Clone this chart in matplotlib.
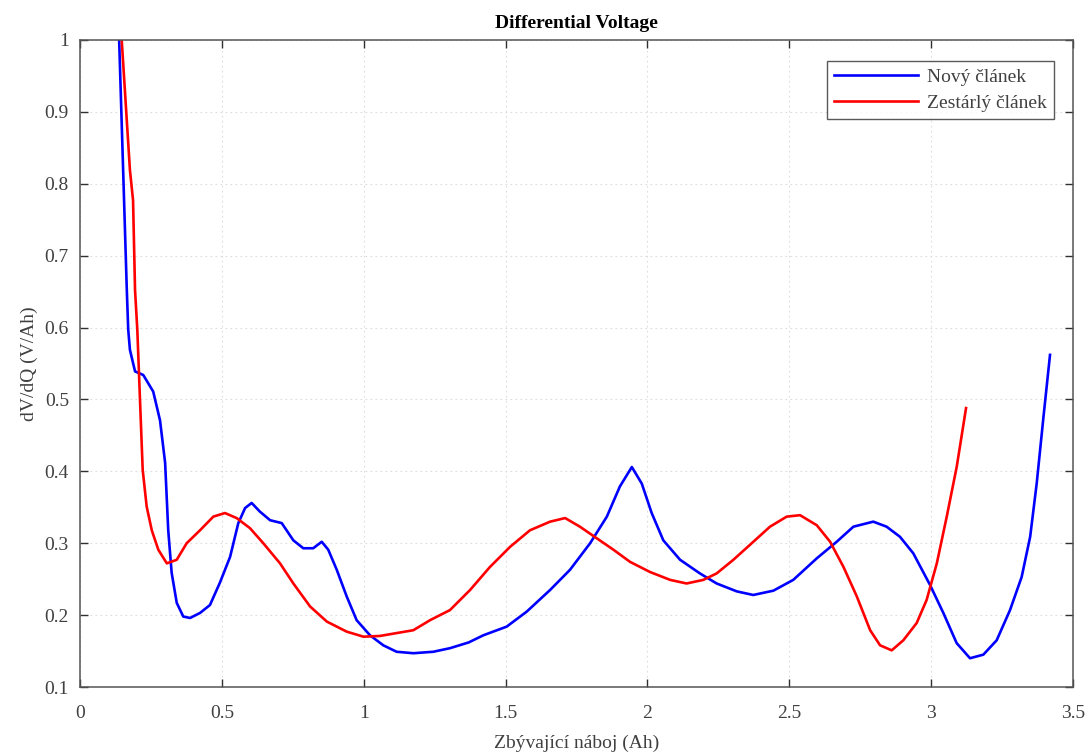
import matplotlib
matplotlib.use("Agg")
import matplotlib.pyplot as plt

# Nový článek (blue)
new_x = [0.138, 0.165, 0.170, 0.176, 0.194, 0.223, 0.258, 0.282, 0.300, 0.311, 0.323, 0.341,
         0.364, 0.388, 0.423, 0.458, 0.493, 0.529, 0.558, 0.582, 0.605, 0.634, 0.670, 0.711,
         0.752, 0.787, 0.822, 0.852, 0.875, 0.905, 0.940, 0.975, 1.022, 1.069, 1.116, 1.175,
         1.245, 1.304, 1.370, 1.422, 1.504, 1.575, 1.657, 1.727, 1.798, 1.857, 1.903, 1.945,
         1.980, 2.015, 2.056, 2.115, 2.185, 2.244, 2.315, 2.373, 2.444, 2.514, 2.597, 2.667,
         2.726, 2.796, 2.843, 2.890, 2.937, 2.996, 3.043, 3.090, 3.137, 3.184, 3.231, 3.278,
         3.319, 3.349, 3.372, 3.396, 3.419]
new_y = [1.000, 0.652, 0.597, 0.569, 0.539, 0.534, 0.511, 0.471, 0.412, 0.318, 0.259, 0.217,
         0.198, 0.196, 0.203, 0.214, 0.245, 0.281, 0.328, 0.349, 0.356, 0.344, 0.332, 0.328,
         0.304, 0.293, 0.293, 0.302, 0.291, 0.263, 0.226, 0.193, 0.172, 0.158, 0.149, 0.147,
         0.149, 0.154, 0.162, 0.172, 0.184, 0.205, 0.235, 0.263, 0.300, 0.337, 0.379, 0.406,
         0.383, 0.342, 0.304, 0.277, 0.258, 0.244, 0.233, 0.228, 0.234, 0.249, 0.279, 0.302,
         0.323, 0.330, 0.323, 0.309, 0.286, 0.242, 0.203, 0.161, 0.140, 0.145, 0.165, 0.207,
         0.253, 0.309, 0.383, 0.476, 0.562]

# Zestárlý článek (red)
old_x = [0.147, 0.176, 0.187, 0.194, 0.202, 0.211, 0.221, 0.235, 0.253, 0.276, 0.306, 0.341,
         0.376, 0.423, 0.470, 0.511, 0.552, 0.599, 0.646, 0.705, 0.752, 0.811, 0.870, 0.940,
         0.999, 1.057, 1.116, 1.175, 1.234, 1.304, 1.375, 1.445, 1.516, 1.586, 1.657, 1.710,
         1.762, 1.821, 1.880, 1.939, 2.009, 2.080, 2.138, 2.197, 2.244, 2.303, 2.362, 2.432,
         2.491, 2.538, 2.597, 2.644, 2.691, 2.738, 2.785, 2.820, 2.861, 2.902, 2.949, 2.984,
         3.020, 3.055, 3.090, 3.123]
old_y = [1.000, 0.819, 0.777, 0.652, 0.597, 0.504, 0.402, 0.351, 0.318, 0.291, 0.272, 0.277,
         0.300, 0.318, 0.337, 0.342, 0.335, 0.321, 0.300, 0.272, 0.244, 0.212, 0.191, 0.177,
         0.170, 0.171, 0.175, 0.179, 0.193, 0.207, 0.235, 0.267, 0.295, 0.318, 0.330, 0.335,
         0.323, 0.307, 0.291, 0.274, 0.260, 0.249, 0.244, 0.249, 0.258, 0.277, 0.298, 0.323,
         0.337, 0.339, 0.325, 0.302, 0.267, 0.226, 0.179, 0.158, 0.151, 0.165, 0.189, 0.221,
         0.272, 0.337, 0.406, 0.488]

series_labels = ["Nový článek", "Zestárlý článek"]
x_ticks = [0, 0.5, 1, 1.5, 2, 2.5, 3, 3.5]
y_ticks = [0.1, 0.2, 0.3, 0.4, 0.5, 0.6, 0.7, 0.8, 0.9, 1.0]
x_tick_labels = ["0", "0.5", "1", "1.5", "2", "2.5", "3", "3.5"]
y_tick_labels = ["0.1", "0.2", "0.3", "0.4", "0.5", "0.6", "0.7", "0.8", "0.9", "1"]

plt.rcParams['font.family'] = ['Liberation Serif', 'DejaVu Serif']
TXT = '#404040'

fig = plt.figure(figsize=(10.88, 7.54), dpi=100)
ax = fig.add_axes([80/1088, 1 - 687/754, (1073-80)/1088, (687-40)/754])

ax.plot(new_x, new_y, color=(0, 0, 1), lw=1.9, label=series_labels[0])
ax.plot(old_x, old_y, color=(1, 0, 0), lw=1.9, label=series_labels[1])

ax.set_xlim(0, 3.5)
ax.set_ylim(0.1, 1.0)
ax.set_xticks(x_ticks)
ax.set_xticklabels(x_tick_labels)
ax.set_yticks(y_ticks)
ax.set_yticklabels(y_tick_labels)
ax.tick_params(direction='in', top=True, right=True, length=6, width=1, colors='#303030',
               labelsize=14, labelcolor=TXT)
ax.tick_params(axis='x', pad=13)
ax.tick_params(axis='y', pad=8)
ax.grid(True, linestyle=(0, (1.5, 3)), color='#dcdcdc', lw=0.8)
for s in ax.spines.values():
    s.set_color('#555555')
    s.set_linewidth(1.1)

ax.set_title("Differential Voltage", fontsize=14, fontweight='bold', pad=9, color='black')
ax.set_xlabel("Zbývající náboj (Ah)", fontsize=14, color=TXT, labelpad=9)
ax.set_ylabel("dV/dQ (V/Ah)", fontsize=14, color=TXT, labelpad=5)

leg = ax.legend(loc='upper right', bbox_to_anchor=(0.981, 0.967), fontsize=14, frameon=True,
                fancybox=False, edgecolor='#303030', handlelength=4.3, borderpad=0.35,
                labelspacing=0.45, handletextpad=0.5, borderaxespad=0)
leg.get_frame().set_linewidth(1)
for t in leg.get_texts():
    t.set_color(TXT)

fig.savefig("out.png", dpi=100)
